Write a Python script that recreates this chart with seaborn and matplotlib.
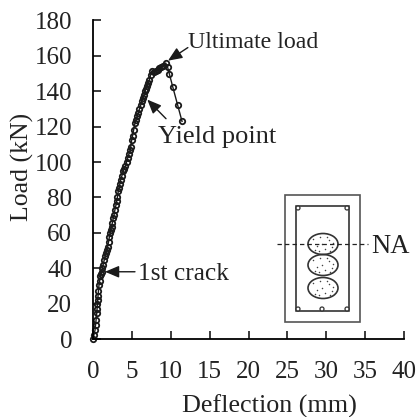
import matplotlib
matplotlib.use('Agg')
import matplotlib.pyplot as plt
from matplotlib.patches import Rectangle, Ellipse, Circle
import pandas as pd
import seaborn as sns

# значения
deflection = [0, 0.13, 0.26, 0.33, 0.4, 0.48, 0.52, 0.56, 0.6, 0.65, 0.7, 0.77, 0.86, 0.95, 1.04,
              1.12, 1.2, 1.3, 1.45, 1.56, 1.67, 1.78, 1.89, 2.0, 2.1, 2.2, 2.28, 2.38, 2.48, 2.61,
              2.7, 2.82, 2.96, 3.05, 3.15, 3.25, 3.35, 3.45, 3.56, 3.7, 3.9, 4.03, 4.13, 4.33,
              4.47, 4.62, 4.76, 4.85, 4.98, 5.1, 5.22, 5.4, 5.52, 5.68, 5.83, 5.97, 6.12, 6.26,
              6.4, 6.55, 6.69, 6.83, 6.97, 7.11, 7.25, 7.4, 7.55, 7.8, 8.05, 8.3, 8.55, 8.8, 9.05,
              9.35, 9.6, 9.81, 10.25, 10.9, 11.45]
load = [0, 2.5, 5, 8, 11, 14.5, 17, 19.5, 22, 24.5, 27, 30.5, 33, 35.5, 37,
        38, 40, 42, 44.7, 47, 48.5, 50.5, 52.2, 55, 57.5, 60, 61.7, 63.5, 65.5, 68.3,
        70, 73, 75.8, 78, 80.5, 83.4, 85.5, 87.5, 90, 92, 95, 96, 97.5, 100.3,
        102.5, 104.5, 106.6, 108.5, 112.6, 115, 118, 122, 124, 126, 127.7, 130, 132, 134.3,
        136, 138, 140, 141.5, 143, 144.7, 146.5, 149, 151.3, 151, 151.5, 152, 153, 153.5, 154.5,
        156, 153.5, 150, 142.6, 132, 123]
x_ticks = list(range(0, 45, 5))
y_ticks = list(range(0, 200, 20))

df = pd.DataFrame({'Deflection': deflection, 'Load': load})

plt.rcParams['font.family'] = 'Liberation Serif'

W, H = 418, 417
fig = plt.figure(figsize=(W / 100, H / 100), dpi=100)
ax = fig.add_axes([93 / W, (H - 339) / H, 311 / W, 318.5 / H])

sns.lineplot(data=df, x='Deflection', y='Load', ax=ax, color='#1a1a1a', linewidth=1,
             marker='o', markersize=3.9, markerfacecolor='none', markeredgecolor='#1a1a1a',
             markeredgewidth=1.3, clip_on=False)

ax.set_xlim(0, 40)
ax.set_ylim(0, 180)
ax.set_xticks(x_ticks)
ax.set_yticks(y_ticks)
ax.tick_params(direction='in', length=5.8, width=1.2, labelsize=18, color='#1a1a1a', labelcolor='#222222')
ax.tick_params(axis='x', pad=15.5)
ax.tick_params(axis='y', pad=15)
ax.set_xlabel('Deflection (mm)', fontsize=18.8, va='center', color='#222222')
ax.set_ylabel('Load (kN)', fontsize=18.5, va='center', color='#222222')
ax.xaxis.set_label_coords((269 - 93) / 311, (339 - 406) / 318.5)
ax.yaxis.set_label_coords((22 - 93) / 311, (339 - 167) / 318.5)
for s in ['top', 'right']:
    ax.spines[s].set_visible(False)
for s in ['left', 'bottom']:
    ax.spines[s].set_linewidth(1.3)

# подписи со стрелками
arrow = dict(arrowstyle='-|>,head_length=0.85,head_width=0.36', color='#1a1a1a', lw=1, shrinkA=0, shrinkB=0)
ax.annotate('', xy=(9.65, 157.3), xytext=(12.2, 164.7), arrowprops=arrow)
ax.text(12.2, 167.5, 'Ultimate load', fontsize=17.2, va='center', ha='left', color='#222222')
ax.annotate('', xy=(6.98, 135.3), xytext=(9.39, 124.5), arrowprops=arrow)
ax.text(8.4, 114, 'Yield point', fontsize=19, va='center', ha='left', color='#222222')
ax.annotate('', xy=(1.54, 38), xytext=(5.4, 38), arrowprops=arrow)
ax.text(5.8, 36.5, '1st crack', fontsize=18.3, va='center', ha='left', color='#222222')

# сечение балки, в пикселях картинки
sec = fig.add_axes([0, 0, 1, 1], facecolor='none')
sec.set_xlim(0, W)
sec.set_ylim(H, 0)
sec.axis('off')
sec.add_patch(Rectangle((285, 195), 75, 127, fill=False, ec='#555555', lw=1.2))
sec.add_patch(Rectangle((296, 206), 53, 105, fill=False, ec='#222222', lw=1.1))
for cy in [244, 265, 288]:
    sec.add_patch(Ellipse((323, cy), 30, 21, fill=False, ec='#333333', lw=1.2))
    dots_x = [-10, -6, -3, 2, 6, 9, -8, -1, 4, 10, -4, 7]
    dots_y = [-5, 2, -7, 5, -4, 3, 6, 0, -7, -1, 7, 7]
    sec.scatter([323 + d for d in dots_x], [cy + d for d in dots_y], s=1.2, color='#444444', linewidths=0)
for cx, cy in [(298, 208), (347, 208), (298, 309), (322, 309), (347, 309)]:
    sec.add_patch(Circle((cx, cy), 2, fill=True, fc='white', ec='#333333', lw=0.9))
sec.plot([277, 368], [244, 244], color='#222222', lw=0.9, ls=(0, (3.5, 2.5)))
sec.text(371, 246, 'NA', fontsize=19.2, va='center', ha='left', color='#222222')

fig.savefig('out.png', dpi=100)
